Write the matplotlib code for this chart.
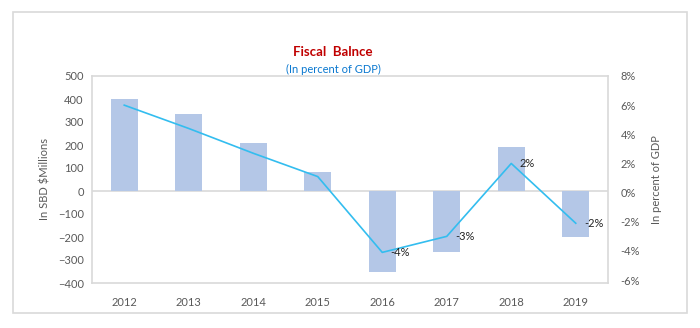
import matplotlib.pyplot as plt
from matplotlib.patches import Rectangle

# Fiscal balance: SBD millions (bars) and percent of GDP (line)
anios = ["2012", "2013", "2014", "2015", "2016", "2017", "2018", "2019"]
balance_mill = [400, 333, 207, 81, -353, -264, 193, -201]
balance_pib = [6.0, 4.4, 2.7, 1.1, -4.1, -3.0, 2.0, -2.1]
etiquetas_pib = {4: "-4%", 5: "-3%", 6: "2%", 7: "-2%"}

COLOR_BARRA = "#b4c7e7"
COLOR_LINEA = "#33bdef"
COLOR_BORDE = "#d9d9d9"
COLOR_TEXTO = "#595959"

plt.rcParams["font.family"] = ["Lato", "DejaVu Sans"]

fig = plt.figure(figsize=(7.0, 3.28), dpi=100)
W, H = 700, 328

# marco exterior del grafico
fig.patches.append(Rectangle((12.5 / W, 1 - 312.7 / H), (686.7 - 12.5) / W, (312.7 - 11.5) / H,
                             transform=fig.transFigure, fill=False,
                             edgecolor=COLOR_BORDE, linewidth=1.2))

ax = fig.add_axes([92 / W, 1 - 283 / H, (608 - 92) / W, (283 - 76) / H])
x = list(range(len(anios)))

ax.bar(x, balance_mill, width=0.42, color=COLOR_BARRA, zorder=2)
ax.axhline(0, color=COLOR_BORDE, linewidth=1.2, zorder=1)
ax.set_xlim(-0.5, len(anios) - 0.5)
ax.set_ylim(-400, 500)
ax.set_yticks(range(-400, 501, 100))
ax.set_xticks(x)
ax.set_xticklabels(anios)
ax.tick_params(length=0, labelsize=8, colors=COLOR_TEXTO, pad=6)
ax.tick_params(axis="x", pad=10)
for s in ax.spines.values():
    s.set_color(COLOR_BORDE)
    s.set_linewidth(1.2)
ax.set_ylabel("In SBD $Millions", fontsize=8, color=COLOR_TEXTO, labelpad=5)

ax2 = ax.twinx()
ax2.plot(x, balance_pib, color=COLOR_LINEA, linewidth=1.2, zorder=3)
ax2.set_ylim(-6.2, 8)
ax2.set_yticks(range(-6, 9, 2))
ax2.set_yticklabels([f"{v}%" for v in range(-6, 9, 2)])
ax2.tick_params(length=0, labelsize=8, colors=COLOR_TEXTO, pad=9)
for s in ax2.spines.values():
    s.set_visible(False)
ax2.set_ylabel("In percent of GDP", fontsize=8, color=COLOR_TEXTO, labelpad=8)

for i, txt in etiquetas_pib.items():
    ax2.annotate(txt, (x[i], balance_pib[i]), xytext=(6, 0), textcoords="offset points",
                 fontsize=8, color="#222222", va="center", ha="left")

fig.text(333 / W, 1 - 52 / H, "Fiscal  Balnce", ha="center", va="center",
         fontsize=9.5, fontweight="bold", color="#c00000")
fig.text(333 / W, 1 - 69 / H, "(In percent of GDP)", ha="center", va="center",
         fontsize=8, color="#0a78d0")

fig.savefig("out.png", dpi=100)
